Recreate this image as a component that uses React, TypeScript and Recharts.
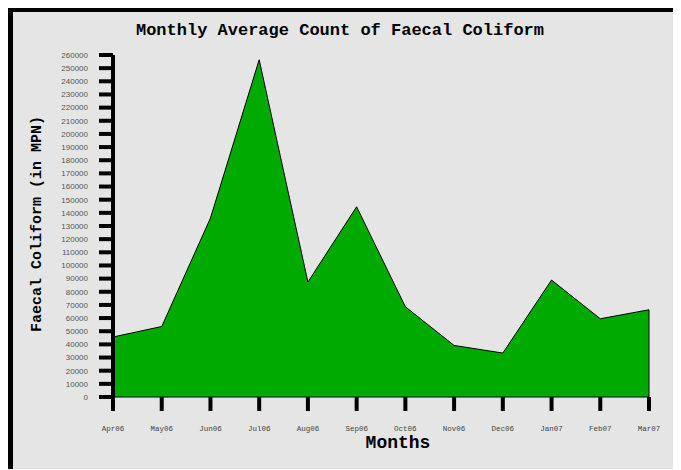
import React from 'react';
import { AreaChart, Area, XAxis, YAxis, ReferenceLine } from 'recharts';

const months = ['Apr06', 'May06', 'Jun06', 'Jul06', 'Aug06', 'Sep06', 'Oct06', 'Nov06', 'Dec06', 'Jan07', 'Feb07', 'Mar07'];
const faecalCounts = [45600, 53600, 136000, 256400, 87400, 144600, 68600, 39200, 33400, 88900, 59500, 66300];
const yTicks = [
  0, 10000, 20000, 30000, 40000, 50000, 60000, 70000, 80000, 90000, 100000, 110000, 120000, 130000,
  140000, 150000, 160000, 170000, 180000, 190000, 200000, 210000, 220000, 230000, 240000, 250000, 260000,
];

const data = months.map((month, i) => ({ month, count: faecalCounts[i] }));
const lastMonth = months[months.length - 1];
const lastCount = faecalCounts[faecalCounts.length - 1];

const mono = '"Liberation Mono", "Courier New", monospace';

export default function App() {
  return (
    <div
      style={{
        position: 'relative',
        width: 668,
        height: 457,
        marginTop: -1,
        background: '#e5e5e5',
        borderTop: '5px solid #000',
        borderLeft: '5px solid #000',
      }}
    >
      <div
        style={{
          position: 'absolute',
          left: 0,
          top: 9,
          width: 654,
          lineHeight: '20px',
          textAlign: 'center',
          fontFamily: mono,
          fontWeight: 'bold',
          fontSize: 17,
          color: '#000',
        }}
      >
        Monthly Average Count of Faecal Coliform
      </div>
      <div
        style={{
          position: 'absolute',
          left: -105,
          top: 202,
          width: 260,
          height: 20,
          lineHeight: '20px',
          textAlign: 'center',
          transform: 'rotate(-90deg)',
          fontFamily: mono,
          fontWeight: 'bold',
          fontSize: 15,
          color: '#000',
        }}
      >
        Faecal Coliform (in MPN)
      </div>
      <div
        style={{
          position: 'absolute',
          left: 285,
          top: 421,
          width: 200,
          lineHeight: '20px',
          textAlign: 'center',
          fontFamily: mono,
          fontWeight: 'bold',
          fontSize: 18,
          color: '#000',
        }}
      >
        Months
      </div>
      <AreaChart width={668} height={457} data={data} margin={{ top: 43, right: 32, bottom: 0, left: 0 }}>
        <XAxis
          dataKey="month"
          height={72}
          interval={0}
          axisLine={{ stroke: '#000', strokeWidth: 1 }}
          tickLine={{ stroke: '#000', strokeWidth: 4 }}
          tickSize={14}
          tickMargin={15}
          tick={{ fontFamily: mono, fontSize: 7.5, fill: '#444' }}
        />
        <YAxis
          width={100}
          domain={[0, 260000]}
          ticks={yTicks}
          interval={0}
          axisLine={{ stroke: '#000', strokeWidth: 4 }}
          tickLine={{ stroke: '#000', strokeWidth: 4 }}
          tickSize={14}
          tickMargin={11}
          tick={{ fontFamily: '"Liberation Sans", Arial, sans-serif', fontSize: 8, fill: '#555' }}
        />
        <Area
          type="linear"
          dataKey="count"
          stroke="#000"
          strokeWidth={1}
          fill="#00aa00"
          fillOpacity={1}
          isAnimationActive={false}
        />
        <ReferenceLine
          segment={[
            { x: lastMonth, y: 0 },
            { x: lastMonth, y: lastCount },
          ]}
          stroke="#000"
          strokeWidth={1}
        />
      </AreaChart>
    </div>
  );
}
